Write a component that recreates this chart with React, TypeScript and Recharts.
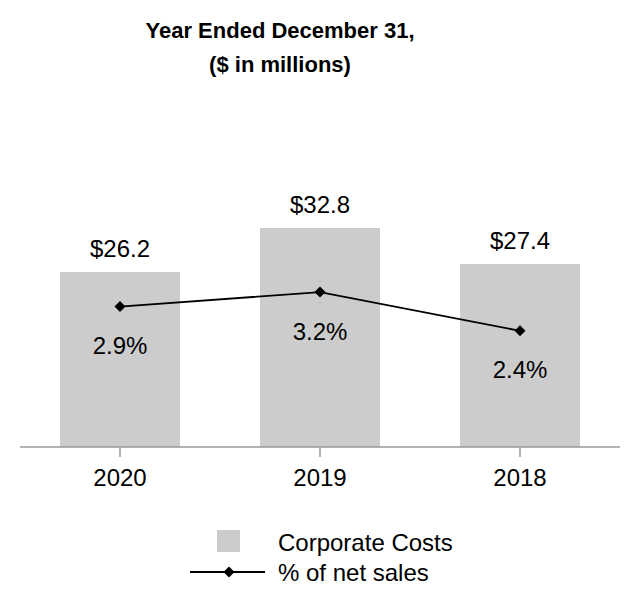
import React from 'react';
import { ComposedChart, Bar, Line, XAxis, YAxis, LabelList } from 'recharts';

const years = ['2020', '2019', '2018'];
const corporateCosts = [26.2, 32.8, 27.4];
const pctOfNetSales = [2.9, 3.2, 2.4];

const FONT = '"Liberation Sans", Arial, sans-serif';
const BAR_COLOR = '#cccccc';
const AXIS_COLOR = '#999999';

const data = years.map((year, i) => ({
    year,
    costs: corporateCosts[i],
    pct: pctOfNetSales[i],
}));

const Diamond = (props: any) => {
    const { cx, cy } = props;
    if (cx == null || cy == null) return null;
    const r = 5.5;
    return <path d={`M${cx},${cy - r}L${cx + r},${cy}L${cx},${cy + r}L${cx - r},${cy}Z`} fill="#000" />;
};

const CostLabel = (props: any) => {
    const { x, y, width, value } = props;
    return (
        <text x={x + width / 2} y={y - 15} textAnchor="middle" fontSize={24} fontFamily={FONT} fill="#000">
            ${Number(value).toFixed(1)}
        </text>
    );
};

const PctLabel = (props: any) => {
    const { x, y, value } = props;
    return (
        <text x={x} y={y + 39} textAnchor="middle" dominantBaseline="central" fontSize={24} fontFamily={FONT} fill="#000">
            {Number(value).toFixed(1)}%
        </text>
    );
};

export default function App() {
    return (
        <div style={{ position: 'absolute', left: 0, top: 0, width: 640, height: 612, background: '#fff', fontFamily: FONT }}>
            <div style={{ position: 'absolute', left: 0, width: 560, top: 14, textAlign: 'center', fontWeight: 'bold', fontSize: 22, lineHeight: '34px', color: '#000' }}>
                Year Ended December 31,
                <br />
                ($ in millions)
            </div>
            <ComposedChart
                width={640}
                height={612}
                data={data}
                margin={{ top: 113, right: 20, left: 20, bottom: 135 }}
                barCategoryGap={40}
            >
                <XAxis
                    dataKey="year"
                    stroke={AXIS_COLOR}
                    strokeWidth={1.5}
                    tickSize={10}
                    tickMargin={12}
                    height={30}
                    tick={{ fill: '#000', fontSize: 24, fontFamily: FONT }}
                />
                <YAxis yAxisId="left" domain={[0, 50]} hide />
                <YAxis yAxisId="right" orientation="right" domain={[0, 6.9]} hide />
                <Bar yAxisId="left" dataKey="costs" fill={BAR_COLOR} isAnimationActive={false}>
                    <LabelList dataKey="costs" content={CostLabel} />
                </Bar>
                <Line
                    yAxisId="right"
                    dataKey="pct"
                    stroke="#000"
                    strokeWidth={1.8}
                    dot={Diamond}
                    activeDot={false}
                    isAnimationActive={false}
                >
                    <LabelList dataKey="pct" content={PctLabel} />
                </Line>
            </ComposedChart>
            <div style={{ position: 'absolute', left: 0, top: 0, width: 640, height: 612, pointerEvents: 'none' }}>
                <svg width={640} height={612} style={{ position: 'absolute', left: 0, top: 0 }}>
                    <rect x={217} y={530} width={23} height={22} fill={BAR_COLOR} />
                    <line x1={190} y1={572} x2={265} y2={572} stroke="#000" strokeWidth={1.8} />
                    <Diamond cx={229} cy={572} />
                    <text x={278} y={542} dominantBaseline="central" fontSize={24} fontFamily={FONT} fill="#000">
                        Corporate Costs
                    </text>
                    <text x={278} y={572} dominantBaseline="central" fontSize={24} fontFamily={FONT} fill="#000">
                        % of net sales
                    </text>
                </svg>
            </div>
        </div>
    );
}
